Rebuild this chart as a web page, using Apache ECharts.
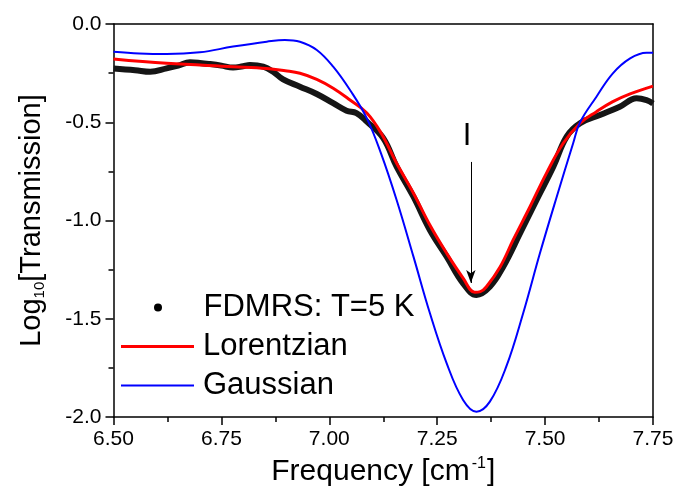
<!DOCTYPE html>
<html>
<head>
<meta charset="utf-8">
<script src="https://cdn.jsdelivr.net/npm/echarts@6/dist/echarts.min.js"></script>
<style>
html,body{margin:0;padding:0;background:#fff;}
#chart{width:678px;height:494px;}
</style>
</head>
<body>
<div id="chart"></div>
<script>
// Measured data (FDMRS, T = 5 K)
var freqData = [6.50, 6.55, 6.585, 6.623, 6.65, 6.677, 6.70, 6.724, 6.75, 6.777, 6.80, 6.816, 6.847, 6.87, 6.893, 6.932, 6.971, 7.009, 7.040, 7.063, 7.087, 7.125, 7.156, 7.195, 7.233, 7.272, 7.31, 7.341, 7.372, 7.403, 7.442, 7.480, 7.519, 7.550, 7.581, 7.627, 7.673, 7.712, 7.735, 7.75];
var logTData = [-0.226, -0.235, -0.243, -0.226, -0.212, -0.195, -0.198, -0.204, -0.212, -0.222, -0.215, -0.209, -0.217, -0.243, -0.282, -0.319, -0.356, -0.403, -0.441, -0.453, -0.497, -0.581, -0.726, -0.879, -1.048, -1.184, -1.320, -1.379, -1.337, -1.235, -1.065, -0.896, -0.726, -0.573, -0.505, -0.463, -0.421, -0.378, -0.387, -0.404];

// Lorentzian fit
var freqLor = [6.50, 6.623, 6.777, 6.855, 6.898, 6.932, 6.971, 7.009, 7.048, 7.087, 7.12, 7.156, 7.195, 7.233, 7.272, 7.31, 7.337, 7.35, 7.364, 7.396, 7.426, 7.465, 7.503, 7.542, 7.581, 7.619, 7.657, 7.697, 7.75];
var logTLor = [-0.178, -0.200, -0.217, -0.226, -0.238, -0.251, -0.282, -0.327, -0.387, -0.453, -0.555, -0.709, -0.861, -1.023, -1.167, -1.293, -1.365, -1.362, -1.337, -1.235, -1.099, -0.930, -0.760, -0.607, -0.505, -0.446, -0.395, -0.356, -0.316];

// Gaussian fit
var freqGau = [6.50, 6.56, 6.623, 6.70, 6.777, 6.855, 6.897, 6.932, 6.971, 7.009, 7.048, 7.087, 7.12, 7.156, 7.195, 7.233, 7.272, 7.31, 7.341, 7.372, 7.41, 7.449, 7.488, 7.527, 7.565, 7.581, 7.619, 7.657, 7.697, 7.735, 7.75];
var logTGau = [-0.141, -0.150, -0.153, -0.144, -0.115, -0.090, -0.081, -0.090, -0.132, -0.217, -0.336, -0.480, -0.660, -0.896, -1.184, -1.471, -1.727, -1.913, -1.973, -1.922, -1.744, -1.473, -1.167, -0.879, -0.607, -0.500, -0.370, -0.251, -0.175, -0.146, -0.146];

// Axis ticks
var xTicks = {min: 6.50, max: 7.75, step: 0.25};
var yTicks = {min: -2.0, max: 0.0, step: 0.5};

// Annotation (peak I)
var peakLabel = 'I';
var peakArrow = {x: 7.328, yFrom: -0.702, yTo: -1.318, labelY: -0.570, labelX: 7.319};

var seriesNames = ['FDMRS: T=5 K', 'Lorentzian', 'Gaussian'];

function zip(a, b) { return a.map(function (v, i) { return [v, b[i]]; }); }

var FONT = 'Liberation Sans, Arial, Helvetica, sans-serif';
var chart = echarts.init(document.getElementById('chart'), null, {renderer: 'canvas'});

var axisLineStyle = {color: '#000', width: 1.5};

var legendBase = {
  orient: 'vertical', left: 121, padding: 0, itemWidth: 73, selectedMode: false,
  textStyle: {fontFamily: FONT, fontSize: 31, color: '#000', lineHeight: 30, padding: [0, 0, 0, 4]}
};

var dotPath = 'path://M0,5a5,5 0 1,0 10,0a5,5 0 1,0 -10,0z';

chart.setOption({
  animation: false,
  backgroundColor: '#fff',
  grid: {left: 113.5, right: 25, top: 24, bottom: 77, containLabel: false, outerBoundsMode: 'none'},
  legend: [
    Object.assign({}, legendBase, {left: 154, top: 292, itemHeight: 8, data: [{name: seriesNames[0], icon: dotPath, itemStyle: {color: '#000'}}]}),
    Object.assign({}, legendBase, {top: 331, itemHeight: 3, data: [{name: seriesNames[1], icon: 'rect', itemStyle: {color: '#ff0000'}}]}),
    Object.assign({}, legendBase, {top: 370, itemHeight: 2, data: [{name: seriesNames[2], icon: 'rect', itemStyle: {color: '#0000ff'}}]})
  ],
  xAxis: [{
    type: 'value', min: xTicks.min, max: xTicks.max, interval: xTicks.step,
    position: 'bottom',
    name: '{a|Frequency [cm}{s|-1}{a|]}',
    nameLocation: 'middle', nameGap: 39,
    nameTextStyle: {
      rich: {
        a: {fontFamily: FONT, fontSize: 30, color: '#000', lineHeight: 31},
        s: {fontFamily: FONT, fontSize: 16, color: '#000', verticalAlign: 'top', lineHeight: 28, padding: [0, 1, 0, 2]}
      }
    },
    axisLine: {show: true, onZero: false, lineStyle: axisLineStyle},
    axisTick: {show: true, inside: false, length: 8, lineStyle: axisLineStyle},
    minorTick: {show: true, splitNumber: 2, length: 5, lineStyle: axisLineStyle},
    splitLine: {show: false},
    axisLabel: {fontFamily: FONT, fontSize: 21, color: '#000', margin: 12,
      formatter: function (v) { return v.toFixed(2); }}
  }, {
    type: 'value', min: xTicks.min, max: xTicks.max, position: 'top',
    axisLine: {show: true, onZero: false, lineStyle: axisLineStyle},
    axisTick: {show: false}, axisLabel: {show: false}, splitLine: {show: false}
  }],
  yAxis: [{
    type: 'value', min: yTicks.min, max: yTicks.max, interval: yTicks.step,
    position: 'left',
    name: '{a|Log}{s|10}{a|[Transmission]}',
    nameLocation: 'middle', nameGap: 66,
    nameTextStyle: {
      rich: {
        a: {fontFamily: FONT, fontSize: 29, color: '#000', lineHeight: 32},
        s: {fontFamily: FONT, fontSize: 15, color: '#000', verticalAlign: 'bottom', lineHeight: 30}
      }
    },
    axisLine: {show: true, onZero: false, lineStyle: axisLineStyle},
    axisTick: {show: true, inside: false, length: 8, lineStyle: axisLineStyle},
    minorTick: {show: true, splitNumber: 2, length: 5, lineStyle: axisLineStyle},
    splitLine: {show: false},
    axisLabel: {fontFamily: FONT, fontSize: 21, color: '#000', margin: 12,
      formatter: function (v) { return v.toFixed(1); }}
  }, {
    type: 'value', min: yTicks.min, max: yTicks.max, position: 'right',
    axisLine: {show: true, onZero: false, lineStyle: axisLineStyle},
    axisTick: {show: false}, axisLabel: {show: false}, splitLine: {show: false}
  }],
  series: [{
    name: seriesNames[0], type: 'line', xAxisIndex: 0, yAxisIndex: 0,
    data: zip(freqData, logTData),
    smooth: 0.4, symbol: 'none', showSymbol: false,
    lineStyle: {color: '#151515', width: 6},
    itemStyle: {color: '#000'},
    z: 2,
    markLine: {
      silent: true, animation: false,
      symbol: ['none', 'arrow'], symbolSize: [7, 13],
      lineStyle: {color: '#000', width: 1, type: 'solid'},
      label: {show: false},
      data: [[{coord: [peakArrow.x, peakArrow.yFrom]}, {coord: [peakArrow.x, peakArrow.yTo]}]]
    },
    markPoint: {
      silent: true, animation: false,
      symbol: 'circle', symbolSize: 0,
      label: {show: true, position: 'inside', formatter: peakLabel, fontFamily: FONT, fontSize: 31, color: '#000'},
      data: [{coord: [peakArrow.labelX, peakArrow.labelY]}]
    }
  }, {
    name: seriesNames[1], type: 'line', xAxisIndex: 0, yAxisIndex: 0,
    data: zip(freqLor, logTLor),
    smooth: 0.4, symbol: 'none', showSymbol: false,
    lineStyle: {color: '#ff0000', width: 3},
    itemStyle: {color: '#ff0000'},
    z: 3
  }, {
    name: seriesNames[2], type: 'line', xAxisIndex: 0, yAxisIndex: 0,
    data: zip(freqGau, logTGau),
    smooth: 0.4, symbol: 'none', showSymbol: false,
    lineStyle: {color: '#0000ff', width: 2},
    itemStyle: {color: '#0000ff'},
    z: 4
  }]
});
</script>
</body>
</html>
